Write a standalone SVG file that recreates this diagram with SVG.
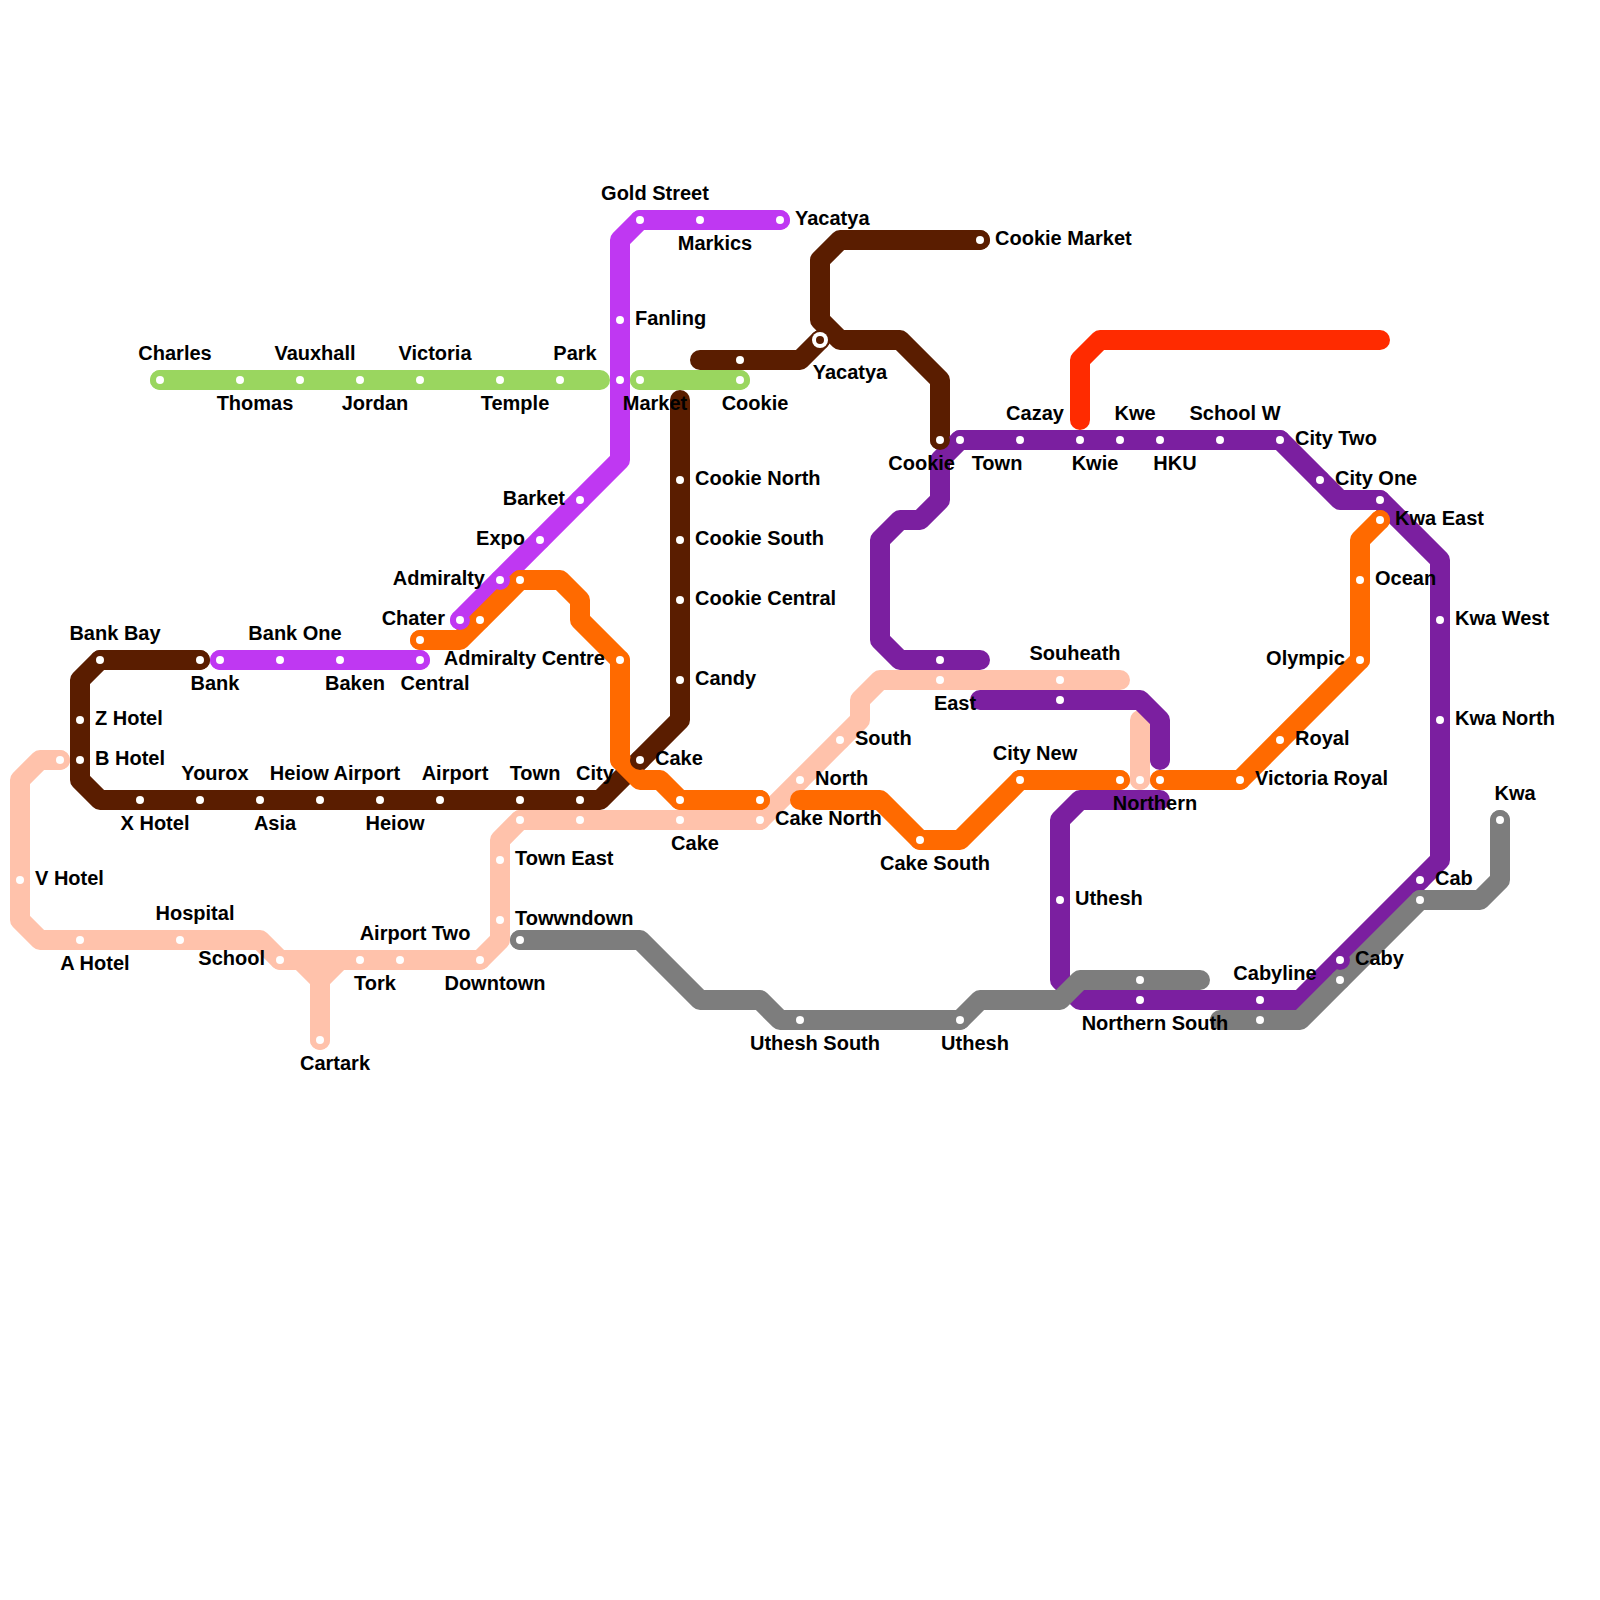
<svg xmlns="http://www.w3.org/2000/svg" width="1600" height="1600" viewBox="0 0 1600 1600">
<style>
.l{fill:none;stroke-width:20;stroke-linecap:round;stroke-linejoin:round}
.peach{stroke:#FFC2AB}.brown{stroke:#5A1D00}.mag{stroke:#BF38F2}.green{stroke:#9AD65F}.purple{stroke:#7B1FA0}.gray{stroke:#7D7D7D}.orange{stroke:#FF6A00}.red{stroke:#FF2B00}
.s .h{r:10px}.s .d{r:4px;fill:#fff}
.fpeach .h{fill:#FFC2AB}.fbrown .h{fill:#5A1D00}.fmag .h{fill:#BF38F2}.fgreen .h{fill:#9AD65F}.fpurple .h{fill:#7B1FA0}.fgray .h{fill:#7D7D7D}.forange .h{fill:#FF6A00}
text{font-family:"Liberation Sans",Arial,sans-serif;font-weight:700;font-size:20px;fill:#000;transform:translateY(1px)}
.m{text-anchor:middle}.e{text-anchor:end}
</style>
<rect width="1600" height="1600" fill="#fff"/>
<g id="connectors">
<path class="l peach" d="M60,760H40L20,780V920L40,940H260L280,960H480L500,940V840L520,820H760L860,720V700L880,680H1120"/>
<path class="l peach" d="M300,960L320,980V1040M340,960L320,980"/>
<path class="l peach" d="M1140,720V780"/>
<path class="l brown" d="M200,660H100L80,680V780L100,800H600L680,720V400"/>
<path class="l brown" d="M700,360H800L820,340"/>
<path class="l brown" d="M980,240H840L820,260V320L840,340H900L940,380V440"/>
<path class="l mag" d="M460,620L620,460V240L640,220H780"/>
<path class="l mag" d="M220,660H420"/>
<path class="l green" d="M160,380H600"/>
<path class="l green" d="M640,380H740"/>
<path class="l purple" d="M980,660H900L880,640V540L900,520H920L940,500V460L960,440H1280L1340,500H1380L1440,560V860L1300,1000H1080L1060,980V820L1080,800H1160"/>
<path class="l purple" d="M980,700H1140L1160,720V760"/>
<path class="l gray" d="M520,940H640L700,1000H760L780,1020H960L980,1000H1060L1080,980H1200"/>
<path class="l gray" d="M1220,1020H1300L1420,900H1480L1500,880V820"/>
<path class="l orange" d="M420,640H460L520,580H560L580,600V620L620,660V760L640,780H660L680,800H760"/>
<path class="l orange" d="M800,800H880L920,840H960L1020,780H1120"/>
<path class="l orange" d="M1160,780H1240L1360,660V540L1380,520"/>
<path class="l red" d="M1080,420V360L1100,340H1380"/>
</g>
<g id="peach-stations" class="s fpeach">
<g id="st-p1"><circle class="h" cx="60" cy="760"/><circle class="d" cx="60" cy="760"/></g>
<g id="st-v-hotel"><circle class="h" cx="20" cy="880"/><circle class="d" cx="20" cy="880"/><text x="35" y="884">V Hotel</text></g>
<g id="st-a-hotel"><circle class="h" cx="80" cy="940"/><circle class="d" cx="80" cy="940"/><text class="m" x="95" y="969">A Hotel</text></g>
<g id="st-hospital"><circle class="h" cx="180" cy="940"/><circle class="d" cx="180" cy="940"/><text class="m" x="195" y="919">Hospital</text></g>
<g id="st-school"><circle class="h" cx="280" cy="960"/><circle class="d" cx="280" cy="960"/><text class="e" x="265" y="964">School</text></g>
<g id="st-tork"><circle class="h" cx="360" cy="960"/><circle class="d" cx="360" cy="960"/><text class="m" x="375" y="989">Tork</text></g>
<g id="st-airport-two"><circle class="h" cx="400" cy="960"/><circle class="d" cx="400" cy="960"/><text class="m" x="415" y="939">Airport Two</text></g>
<g id="st-downtown"><circle class="h" cx="480" cy="960"/><circle class="d" cx="480" cy="960"/><text class="m" x="495" y="989">Downtown</text></g>
<g id="st-cartark"><circle class="h" cx="320" cy="1040"/><circle class="d" cx="320" cy="1040"/><text class="m" x="335" y="1069">Cartark</text></g>
<g id="st-towwndown"><circle class="h" cx="500" cy="920"/><circle class="d" cx="500" cy="920"/><text x="515" y="924">Towwndown</text></g>
<g id="st-town-east"><circle class="h" cx="500" cy="860"/><circle class="d" cx="500" cy="860"/><text x="515" y="864">Town East</text></g>
<g id="st-p2"><circle class="h" cx="520" cy="820"/><circle class="d" cx="520" cy="820"/></g>
<g id="st-p3"><circle class="h" cx="580" cy="820"/><circle class="d" cx="580" cy="820"/></g>
<g id="st-cake-p"><circle class="h" cx="680" cy="820"/><circle class="d" cx="680" cy="820"/><text class="m" x="695" y="849">Cake</text></g>
<g id="st-cake-north"><circle class="h" cx="760" cy="820"/><circle class="d" cx="760" cy="820"/><text x="775" y="824">Cake North</text></g>
<g id="st-north"><circle class="h" cx="800" cy="780"/><circle class="d" cx="800" cy="780"/><text x="815" y="784">North</text></g>
<g id="st-south"><circle class="h" cx="840" cy="740"/><circle class="d" cx="840" cy="740"/><text x="855" y="744">South</text></g>
<g id="st-east"><circle class="h" cx="940" cy="680"/><circle class="d" cx="940" cy="680"/><text class="m" x="955" y="709">East</text></g>
<g id="st-souheath"><circle class="h" cx="1060" cy="680"/><circle class="d" cx="1060" cy="680"/><text class="m" x="1075" y="659">Souheath</text></g>
<g id="st-northern"><circle class="h" cx="1140" cy="780"/><circle class="d" cx="1140" cy="780"/><text class="m" x="1155" y="809">Northern</text></g>
</g>
<g id="brown-stations" class="s fbrown">
<g id="st-bank-bay"><circle class="h" cx="100" cy="660"/><circle class="d" cx="100" cy="660"/><text class="m" x="115" y="639">Bank Bay</text></g>
<g id="st-bank"><circle class="h" cx="200" cy="660"/><circle class="d" cx="200" cy="660"/><text class="m" x="215" y="689">Bank</text></g>
<g id="st-z-hotel"><circle class="h" cx="80" cy="720"/><circle class="d" cx="80" cy="720"/><text x="95" y="724">Z Hotel</text></g>
<g id="st-b-hotel"><circle class="h" cx="80" cy="760"/><circle class="d" cx="80" cy="760"/><text x="95" y="764">B Hotel</text></g>
<g id="st-x-hotel"><circle class="h" cx="140" cy="800"/><circle class="d" cx="140" cy="800"/><text class="m" x="155" y="829">X Hotel</text></g>
<g id="st-yourox"><circle class="h" cx="200" cy="800"/><circle class="d" cx="200" cy="800"/><text class="m" x="215" y="779">Yourox</text></g>
<g id="st-asia"><circle class="h" cx="260" cy="800"/><circle class="d" cx="260" cy="800"/><text class="m" x="275" y="829">Asia</text></g>
<g id="st-heiow-airport"><circle class="h" cx="320" cy="800"/><circle class="d" cx="320" cy="800"/><text class="m" x="335" y="779">Heiow Airport</text></g>
<g id="st-heiow"><circle class="h" cx="380" cy="800"/><circle class="d" cx="380" cy="800"/><text class="m" x="395" y="829">Heiow</text></g>
<g id="st-airport"><circle class="h" cx="440" cy="800"/><circle class="d" cx="440" cy="800"/><text class="m" x="455" y="779">Airport</text></g>
<g id="st-town"><circle class="h" cx="520" cy="800"/><circle class="d" cx="520" cy="800"/><text class="m" x="535" y="779">Town</text></g>
<g id="st-city"><circle class="h" cx="580" cy="800"/><circle class="d" cx="580" cy="800"/><text class="m" x="595" y="779">City</text></g>
<g id="st-cake-b"><circle class="h" cx="640" cy="760"/><circle class="d" cx="640" cy="760"/><text x="655" y="764">Cake</text></g>
<g id="st-candy"><circle class="h" cx="680" cy="680"/><circle class="d" cx="680" cy="680"/><text x="695" y="684">Candy</text></g>
<g id="st-cookie-central"><circle class="h" cx="680" cy="600"/><circle class="d" cx="680" cy="600"/><text x="695" y="604">Cookie Central</text></g>
<g id="st-cookie-south"><circle class="h" cx="680" cy="540"/><circle class="d" cx="680" cy="540"/><text x="695" y="544">Cookie South</text></g>
<g id="st-cookie-north"><circle class="h" cx="680" cy="480"/><circle class="d" cx="680" cy="480"/><text x="695" y="484">Cookie North</text></g>
<g id="st-b1"><circle class="h" cx="740" cy="360"/><circle class="d" cx="740" cy="360"/></g>
<g id="st-yacatya-b"><circle class="h" cx="820" cy="340"/><circle cx="820" cy="340" r="8" fill="#fff"/><circle cx="820" cy="340" r="4" fill="#5A1D00"/><text class="m" x="850" y="378">Yacatya</text></g>
<g id="st-cookie-market"><circle class="h" cx="980" cy="240"/><circle class="d" cx="980" cy="240"/><text x="995" y="244">Cookie Market</text></g>
</g>
<g id="magenta-stations" class="s fmag">
<g id="st-gold-street"><circle class="h" cx="640" cy="220"/><circle class="d" cx="640" cy="220"/><text class="m" x="655" y="199">Gold Street</text></g>
<g id="st-markics"><circle class="h" cx="700" cy="220"/><circle class="d" cx="700" cy="220"/><text class="m" x="715" y="249">Markics</text></g>
<g id="st-yacatya-m"><circle class="h" cx="780" cy="220"/><circle class="d" cx="780" cy="220"/><text x="795" y="224">Yacatya</text></g>
<g id="st-fanling"><circle class="h" cx="620" cy="320"/><circle class="d" cx="620" cy="320"/><text x="635" y="324">Fanling</text></g>
<g id="st-m1"><circle class="h" cx="620" cy="380"/><circle class="d" cx="620" cy="380"/></g>
<g id="st-barket"><circle class="h" cx="580" cy="500"/><circle class="d" cx="580" cy="500"/><text class="e" x="565" y="504">Barket</text></g>
<g id="st-expo"><circle class="h" cx="540" cy="540"/><circle class="d" cx="540" cy="540"/><text class="e" x="525" y="544">Expo</text></g>
<g id="st-admiralty"><circle class="h" cx="500" cy="580"/><circle class="d" cx="500" cy="580"/><text class="e" x="485" y="584">Admiralty</text></g>
<g id="st-chater"><circle class="h" cx="460" cy="620"/><circle class="d" cx="460" cy="620"/><text class="e" x="445" y="624">Chater</text></g>
<g id="st-m2"><circle class="h" cx="220" cy="660"/><circle class="d" cx="220" cy="660"/></g>
<g id="st-bank-one"><circle class="h" cx="280" cy="660"/><circle class="d" cx="280" cy="660"/><text class="m" x="295" y="639">Bank One</text></g>
<g id="st-baken"><circle class="h" cx="340" cy="660"/><circle class="d" cx="340" cy="660"/><text class="m" x="355" y="689">Baken</text></g>
<g id="st-central"><circle class="h" cx="420" cy="660"/><circle class="d" cx="420" cy="660"/><text class="m" x="435" y="689">Central</text></g>
</g>
<g id="green-stations" class="s fgreen">
<g id="st-charles"><circle class="h" cx="160" cy="380"/><circle class="d" cx="160" cy="380"/><text class="m" x="175" y="359">Charles</text></g>
<g id="st-thomas"><circle class="h" cx="240" cy="380"/><circle class="d" cx="240" cy="380"/><text class="m" x="255" y="409">Thomas</text></g>
<g id="st-vauxhall"><circle class="h" cx="300" cy="380"/><circle class="d" cx="300" cy="380"/><text class="m" x="315" y="359">Vauxhall</text></g>
<g id="st-jordan"><circle class="h" cx="360" cy="380"/><circle class="d" cx="360" cy="380"/><text class="m" x="375" y="409">Jordan</text></g>
<g id="st-victoria"><circle class="h" cx="420" cy="380"/><circle class="d" cx="420" cy="380"/><text class="m" x="435" y="359">Victoria</text></g>
<g id="st-temple"><circle class="h" cx="500" cy="380"/><circle class="d" cx="500" cy="380"/><text class="m" x="515" y="409">Temple</text></g>
<g id="st-park"><circle class="h" cx="560" cy="380"/><circle class="d" cx="560" cy="380"/><text class="m" x="575" y="359">Park</text></g>
<g id="st-market"><circle class="h" cx="640" cy="380"/><circle class="d" cx="640" cy="380"/><text class="m" x="655" y="409">Market</text></g>
<g id="st-cookie-g"><circle class="h" cx="740" cy="380"/><circle class="d" cx="740" cy="380"/><text class="m" x="755" y="409">Cookie</text></g>
</g>
<g id="purple-stations" class="s fpurple">
<g id="st-u1"><circle class="h" cx="940" cy="660"/><circle class="d" cx="940" cy="660"/></g>
<g id="st-town-p"><circle class="h" cx="960" cy="440"/><circle class="d" cx="960" cy="440"/><text class="m" x="997" y="469">Town</text></g>
<g id="st-cazay"><circle class="h" cx="1020" cy="440"/><circle class="d" cx="1020" cy="440"/><text class="m" x="1035" y="419">Cazay</text></g>
<g id="st-kwie"><circle class="h" cx="1080" cy="440"/><circle class="d" cx="1080" cy="440"/><text class="m" x="1095" y="469">Kwie</text></g>
<g id="st-kwe"><circle class="h" cx="1120" cy="440"/><circle class="d" cx="1120" cy="440"/><text class="m" x="1135" y="419">Kwe</text></g>
<g id="st-hku"><circle class="h" cx="1160" cy="440"/><circle class="d" cx="1160" cy="440"/><text class="m" x="1175" y="469">HKU</text></g>
<g id="st-school-w"><circle class="h" cx="1220" cy="440"/><circle class="d" cx="1220" cy="440"/><text class="m" x="1235" y="419">School W</text></g>
<g id="st-city-two"><circle class="h" cx="1280" cy="440"/><circle class="d" cx="1280" cy="440"/><text x="1295" y="444">City Two</text></g>
<g id="st-city-one"><circle class="h" cx="1320" cy="480"/><circle class="d" cx="1320" cy="480"/><text x="1335" y="484">City One</text></g>
<g id="st-u2"><circle class="h" cx="1380" cy="500"/><circle class="d" cx="1380" cy="500"/></g>
<g id="st-kwa-west"><circle class="h" cx="1440" cy="620"/><circle class="d" cx="1440" cy="620"/><text x="1455" y="624">Kwa West</text></g>
<g id="st-kwa-north"><circle class="h" cx="1440" cy="720"/><circle class="d" cx="1440" cy="720"/><text x="1455" y="724">Kwa North</text></g>
<g id="st-cab"><circle class="h" cx="1420" cy="880"/><circle class="d" cx="1420" cy="880"/><text x="1435" y="884">Cab</text></g>
<g id="st-caby"><circle class="h" cx="1340" cy="960"/><circle class="d" cx="1340" cy="960"/><text x="1355" y="964">Caby</text></g>
<g id="st-cabyline"><circle class="h" cx="1260" cy="1000"/><circle class="d" cx="1260" cy="1000"/><text class="m" x="1275" y="979">Cabyline</text></g>
<g id="st-northern-south"><circle class="h" cx="1140" cy="1000"/><circle class="d" cx="1140" cy="1000"/><text class="m" x="1155" y="1029">Northern South</text></g>
<g id="st-uthesh-p"><circle class="h" cx="1060" cy="900"/><circle class="d" cx="1060" cy="900"/><text x="1075" y="904">Uthesh</text></g>
<g id="st-u3"><circle class="h" cx="1060" cy="700"/><circle class="d" cx="1060" cy="700"/></g>
</g>
<g id="gray-stations" class="s fgray">
<g id="st-g1"><circle class="h" cx="520" cy="940"/><circle class="d" cx="520" cy="940"/></g>
<g id="st-uthesh-south"><circle class="h" cx="800" cy="1020"/><circle class="d" cx="800" cy="1020"/><text class="m" x="815" y="1049">Uthesh South</text></g>
<g id="st-uthesh-g"><circle class="h" cx="960" cy="1020"/><circle class="d" cx="960" cy="1020"/><text class="m" x="975" y="1049">Uthesh</text></g>
<g id="st-g2"><circle class="h" cx="1140" cy="980"/><circle class="d" cx="1140" cy="980"/></g>
<g id="st-g3"><circle class="h" cx="1260" cy="1020"/><circle class="d" cx="1260" cy="1020"/></g>
<g id="st-g4"><circle class="h" cx="1340" cy="980"/><circle class="d" cx="1340" cy="980"/></g>
<g id="st-g5"><circle class="h" cx="1420" cy="900"/><circle class="d" cx="1420" cy="900"/></g>
<g id="st-kwa"><circle class="h" cx="1500" cy="820"/><circle class="d" cx="1500" cy="820"/><text class="m" x="1515" y="799">Kwa</text></g>
</g>
<g id="orange-stations" class="s forange">
<g id="st-o1"><circle class="h" cx="420" cy="640"/><circle class="d" cx="420" cy="640"/></g>
<g id="st-o2"><circle class="h" cx="480" cy="620"/><circle class="d" cx="480" cy="620"/></g>
<g id="st-o3"><circle class="h" cx="520" cy="580"/><circle class="d" cx="520" cy="580"/></g>
<g id="st-admiralty-centre"><circle class="h" cx="620" cy="660"/><circle class="d" cx="620" cy="660"/><text class="e" x="605" y="664">Admiralty Centre</text></g>
<g id="st-o4"><circle class="h" cx="680" cy="800"/><circle class="d" cx="680" cy="800"/></g>
<g id="st-o5"><circle class="h" cx="760" cy="800"/><circle class="d" cx="760" cy="800"/></g>
<g id="st-cake-south"><circle class="h" cx="920" cy="840"/><circle class="d" cx="920" cy="840"/><text class="m" x="935" y="869">Cake South</text></g>
<g id="st-city-new"><circle class="h" cx="1020" cy="780"/><circle class="d" cx="1020" cy="780"/><text class="m" x="1035" y="759">City New</text></g>
<g id="st-o6"><circle class="h" cx="1120" cy="780"/><circle class="d" cx="1120" cy="780"/></g>
<g id="st-o7"><circle class="h" cx="1160" cy="780"/><circle class="d" cx="1160" cy="780"/></g>
<g id="st-victoria-royal"><circle class="h" cx="1240" cy="780"/><circle class="d" cx="1240" cy="780"/><text x="1255" y="784">Victoria Royal</text></g>
<g id="st-royal"><circle class="h" cx="1280" cy="740"/><circle class="d" cx="1280" cy="740"/><text x="1295" y="744">Royal</text></g>
<g id="st-olympic"><circle class="h" cx="1360" cy="660"/><circle class="d" cx="1360" cy="660"/><text class="e" x="1345" y="664">Olympic</text></g>
<g id="st-ocean"><circle class="h" cx="1360" cy="580"/><circle class="d" cx="1360" cy="580"/><text x="1375" y="584">Ocean</text></g>
<g id="st-kwa-east"><circle class="h" cx="1380" cy="520"/><circle class="d" cx="1380" cy="520"/><text x="1395" y="524">Kwa East</text></g>
</g>
<g id="cookie-station" class="s fbrown">
<g id="st-cookie-b"><circle class="h" cx="940" cy="440"/><circle class="d" cx="940" cy="440"/><text class="e" x="955" y="469">Cookie</text></g>
</g>
</svg>
